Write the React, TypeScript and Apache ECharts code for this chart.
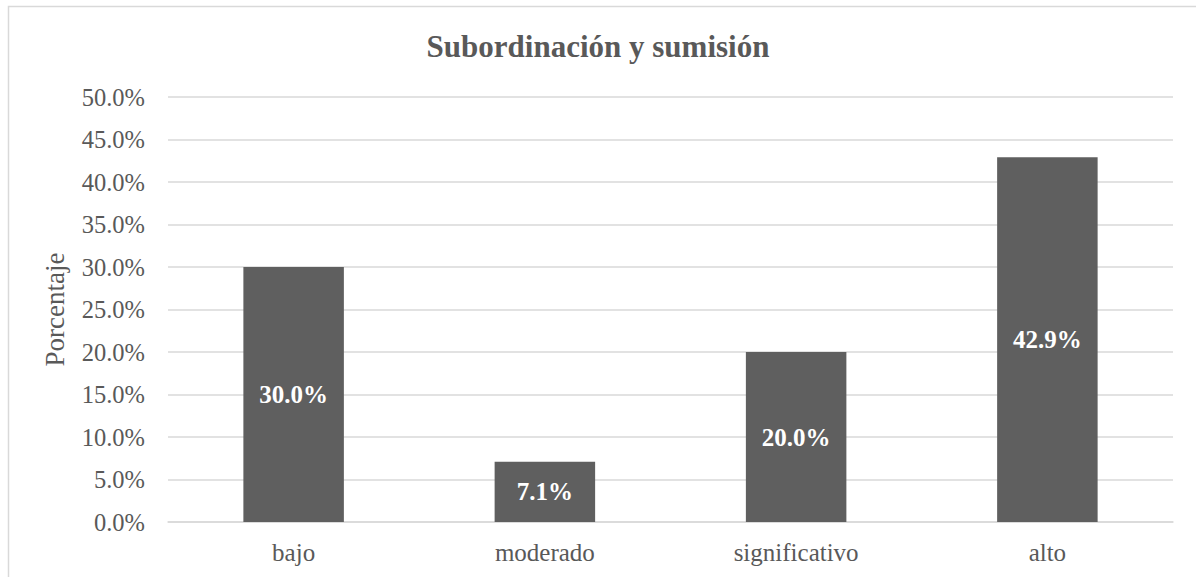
import React, { useEffect, useRef } from "react";
import * as echarts from "echarts";

const categories: string[] = ["bajo", "moderado", "significativo", "alto"];
const values: number[] = [30.0, 7.1, 20.0, 42.9];
const titleText = "Subordinación y sumisión";
const yAxisName = "Porcentaje";

const FONT = "'Liberation Serif', 'Times New Roman', serif";
const TEXT = "#595959";
const GRID = "#d9d9d9";
const BAR = "#5f5f5f";

export default function App() {
  const ref = useRef<HTMLDivElement>(null);
  useEffect(() => {
    if (!ref.current) return;
    const chart = echarts.init(ref.current, undefined, { renderer: "svg" });
    chart.setOption({
      animation: false,
      backgroundColor: "#ffffff",
      textStyle: { fontFamily: FONT },
      graphic: [
        {
          type: "rect",
          shape: { x: 8.5, y: 6.5, width: 1400, height: 800 },
          style: { fill: "none", stroke: GRID, lineWidth: 1.5 },
          silent: true,
          z: -1,
        },
      ],
      title: {
        text: titleText,
        left: "center",
        top: 31,
        padding: 0,
        textStyle: {
          fontFamily: FONT,
          fontSize: 31,
          fontWeight: "bold",
          color: TEXT,
          lineHeight: 31,
        },
      },
      grid: { left: 168, right: 23, top: 97, bottom: 55, containLabel: false },
      xAxis: {
        type: "category",
        data: categories,
        axisLine: { show: true, lineStyle: { color: GRID, width: 1.5 } },
        axisTick: { show: false },
        axisLabel: {
          color: TEXT,
          fontFamily: FONT,
          fontSize: 25,
          margin: 18,
        },
      },
      yAxis: {
        type: "value",
        min: 0,
        max: 50,
        interval: 5,
        name: yAxisName,
        nameLocation: "middle",
        nameGap: 100,
        nameRotate: 90,
        nameTextStyle: { color: TEXT, fontFamily: FONT, fontSize: 27 },
        axisLine: { show: false },
        axisTick: { show: false },
        splitLine: { lineStyle: { color: GRID, width: 1.5 } },
        axisLabel: {
          color: TEXT,
          fontFamily: FONT,
          fontSize: 24.5,
          margin: 23,
          formatter: (v: number) => v.toFixed(1) + "%",
        },
      },
      series: [
        {
          type: "bar",
          data: values,
          barWidth: "40%",
          itemStyle: { color: BAR },
          label: {
            show: true,
            position: "inside",
            color: "#ffffff",
            fontFamily: FONT,
            fontWeight: "bold",
            fontSize: 25,
            formatter: (p: any) => Number(p.value).toFixed(1) + "%",
          },
        },
      ],
    });
    return () => chart.dispose();
  }, []);
  return (
    <div
      ref={ref}
      style={{ position: "absolute", left: 0, top: 0, width: 1196, height: 577 }}
    />
  );
}
